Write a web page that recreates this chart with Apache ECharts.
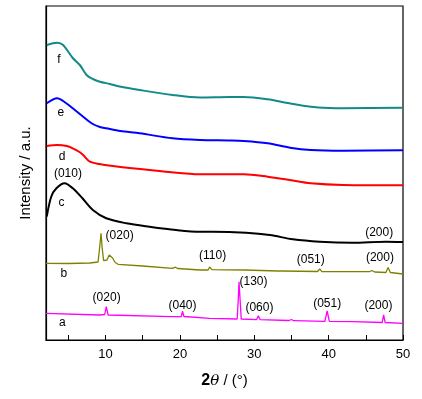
<!DOCTYPE html>
<html>
<head>
<meta charset="utf-8">
<script src="https://cdn.jsdelivr.net/npm/echarts@6/dist/echarts.min.js"></script>
<style>
  html, body { margin: 0; padding: 0; background: #fff; }
  #chart { width: 422px; height: 399px; }
</style>
</head>
<body>
<div id="chart"></div>
<script>
// 2theta (deg) vs intensity (a.u., offset per curve)
const curveA = [[2,26.7],[9.2,25],[9.9,25.5],[10.1,33.3],[10.35,25],[10.6,24.3],[18.9,23.3],[20.2,23.5],[20.35,28.7],[20.55,23.5],[24,21.7],[27.7,21],[27.85,40],[27.95,58.3],[28.1,40],[28.25,21],[30.3,20.3],[30.55,24.3],[30.8,20.3],[34.7,19.5],[35,20.5],[35.3,19.3],[39.5,18.6],[39.8,29],[40.1,18.6],[43.3,18.4],[47.2,17.5],[47.4,25],[47.6,17.5],[50,16.7]];
const curveB = [[2,76.7],[5,76.5],[7.9,77],[9.0,78],[9.25,95],[9.4,106.7],[9.55,92],[9.75,79.3],[10.2,80],[10.5,85],[10.7,86],[10.95,82],[11.3,77.5],[11.7,75.7],[15,74],[19,71.7],[19.4,72.8],[19.7,71.5],[22.7,70],[23.8,70],[24,73],[24.3,70.3],[26,70.2],[28.7,70],[33.2,69],[33.4,70.5],[33.7,69],[38.5,68.5],[38.8,71],[39.1,68.3],[45.5,68.3],[45.8,69.5],[46.2,68],[47.7,67.5],[48,72.5],[48.3,67.5],[50,66]];
const curveC = [[2.1,123.3],[2.7,143.3],[3.4,151.7],[4.5,156.7],[5.6,151.7],[6.9,141.7],[8.3,130],[10.1,121.7],[12.8,116.7],[15.9,113.3],[19.5,110],[22.7,108.3],[24.4,108.3],[28.9,107.3],[32.1,105],[35.2,100.7],[38.8,98.3],[43.2,97.3],[47.7,98.3],[50,98]];
const curveD = [[2.1,194],[3.5,195],[4.8,194],[5.6,191.7],[6.5,188],[7,185],[7.9,178.3],[9.2,176],[11,174],[13.6,171.7],[18.1,168.3],[22.7,165.7],[28.6,165.7],[31.8,163.3],[34.8,160],[37.6,156.7],[42,155],[50,154.7]];
const curveE = [[2.1,236.7],[3.5,241.7],[4.3,239],[5.6,231.7],[7,223.3],[8.3,216],[9.25,213],[10.1,211.7],[12,209],[14.6,206.7],[19,201.7],[22.7,200],[26.7,199.5],[28.6,199],[31.8,196.7],[34.8,192.3],[37.6,190],[42,189.3],[50,189.7]];
const curveF = [[2.1,295],[3.5,297.3],[4.3,295],[5.6,282],[6.55,275],[7.45,265],[8.3,261],[9.25,258.3],[10.6,256],[11.9,253.5],[14.6,250],[19.05,245],[22.7,242.5],[26.7,243],[28.6,243],[31.8,240.7],[34.5,237],[37.6,233.3],[40.1,232],[42,231.7],[50,232.3]];

const tickValues = [5, 10, 15, 20, 25, 30, 35, 40, 45, 50];
const labelValues = [10, 20, 30, 40, 50];

// curve letters and (hkl) reflections
const notes = [
  [3.75, 280, 'f'], [4.0, 227, 'e'], [4.15, 183, 'd'], [4.95, 166, '(010)'],
  [4.1, 137.3, 'c'], [4.4, 66, 'b'], [4.2, 17.3, 'a'],
  [11.9, 104, '(020)'], [24.4, 84, '(110)'], [37.6, 80, '(051)'], [46.9, 82.7, '(200)'],
  [46.8, 107.7, '(200)'],
  [10.15, 42.7, '(020)'], [20.35, 34.7, '(040)'], [29.9, 58.3, '(130)'], [30.7, 32.3, '(060)'],
  [39.8, 36.7, '(051)'], [46.7, 34, '(200)']
];

const FONT = 'Liberation Sans, Arial, sans-serif';

function curve(data, color, width, smooth) {
  return {
    type: 'line',
    data: data,
    symbol: 'none',
    smooth: smooth,
    lineStyle: { color: color, width: width },
    animation: false
  };
}

const chart = echarts.init(document.getElementById('chart'));
chart.setOption({
  animation: false,
  grid: { left: 46, right: 19, top: 6, bottom: 59, show: true, borderColor: '#000', borderWidth: 1.2 },
  xAxis: {
    type: 'value',
    min: 2,
    max: 50,
    name: '{b|2}{i|θ}{n| / (°)}',
    nameLocation: 'middle',
    nameGap: 33,
    nameTextStyle: {
      rich: {
        b: { fontFamily: FONT, fontSize: 16, fontWeight: 'bold', color: '#000' },
        i: { fontFamily: 'DejaVu Serif', fontSize: 15, fontStyle: 'italic', color: '#000' },
        n: { fontFamily: FONT, fontSize: 15, color: '#000' }
      }
    },
    splitLine: { show: false },
    axisLine: { lineStyle: { color: '#000', width: 1.2 } },
    axisTick: { inside: true, length: 5, customValues: tickValues, lineStyle: { color: '#000' } },
    axisLabel: { customValues: labelValues, color: '#000', fontSize: 13, fontFamily: FONT, margin: 8 }
  },
  yAxis: {
    type: 'value',
    min: 0,
    max: 334,
    name: 'Intensity / a.u.',
    nameLocation: 'middle',
    nameGap: 13,
    nameTextStyle: { fontFamily: FONT, fontSize: 15, color: '#000' },
    splitLine: { show: false },
    axisLine: { show: true, lineStyle: { color: '#000', width: 1.2 } },
    axisTick: { show: false },
    axisLabel: { show: false }
  },
  series: [
    curve(curveA, '#ff00ff', 1.3, false),
    curve(curveB, '#808000', 1.3, false),
    curve(curveC, '#000000', 2, 0.3),
    curve(curveD, '#ff0000', 2, 0.3),
    curve(curveE, '#0000ff', 2, 0.3),
    curve(curveF, '#138a8a', 2, 0.3),
    {
      type: 'scatter',
      data: notes.map(n => ({ value: [n[0], n[1]], name: n[2] })),
      symbolSize: 0,
      silent: true,
      itemStyle: { opacity: 1 },
      label: {
        show: true,
        position: 'inside',
        formatter: p => p.name,
        color: '#000',
        opacity: 1,
        textBorderWidth: 0,
        fontSize: 12,
        fontFamily: FONT
      }
    }
  ]
});
</script>
</body>
</html>
